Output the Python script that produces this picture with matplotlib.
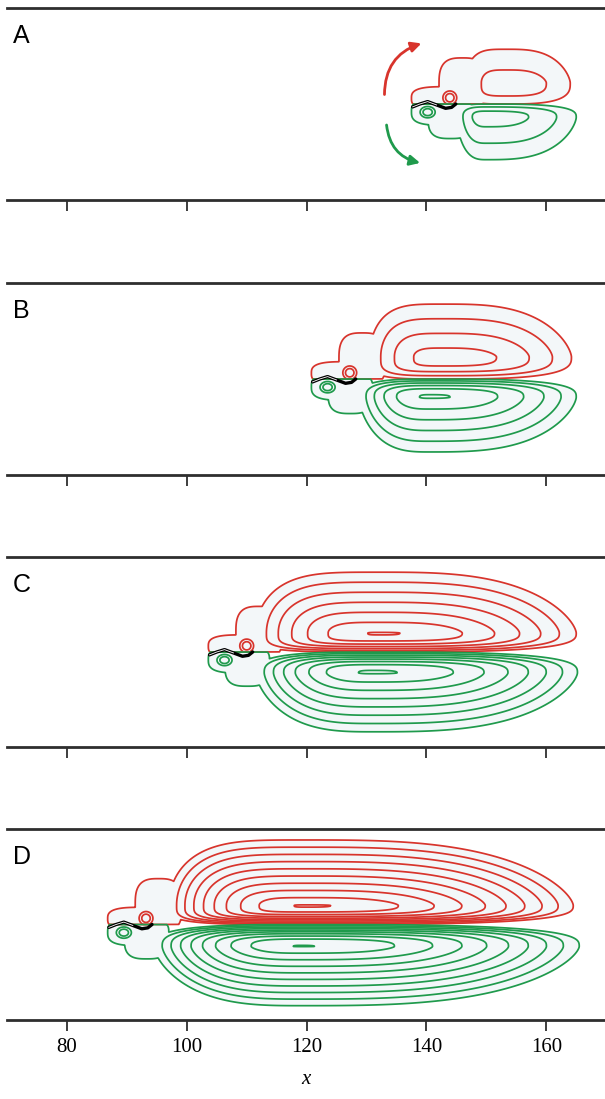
import numpy as np
import matplotlib
matplotlib.use("Agg")
import matplotlib.pyplot as plt
from matplotlib.patches import FancyArrowPatch

# ---------------- data ----------------
PANELS = ["A", "B", "C", "D"]
LEAD = [137.7, 121.0, 103.8, 87.0]          # leading-edge x of each structure

# red (upper) lobe: centre, extents of outer contour, number of levels, innermost size
RED_XC = [153.5, 143.0, 132.3, 120.0]
RED_YC = [0.22, 0.23, 0.20, 0.20]
RED_XL = [146.5, 130.5, 111.5, 97.0]
RED_XR = [164.0, 164.2, 165.0, 164.5]
RED_YT = [0.57, 0.78, 0.84, 0.885]
RED_N = [2, 4, 7, 10]
RED_INNER = [0.62, 0.41, 0.10, 0.09]

# green (lower) lobe
GRN_XC = [150.0, 140.5, 131.0, 119.0]
GRN_YC = [-0.14, -0.19, -0.22, -0.23]
GRN_XL = [145.0, 128.7, 111.5, 94.5]
GRN_XR = [165.0, 165.0, 165.2, 165.5]
GRN_YT = [-0.58, -0.76, -0.84, -0.85]
GRN_N = [3, 6, 8, 10]
GRN_INNER = [0.47, 0.14, 0.12, 0.05]

# leading-edge features, relative to LEAD: (dx, y, half-width, half-height, height, power)
RED_BLOBS = [(5.4, 0.06, 5.6, 0.12, 0.6, 3),
             (8.3, 0.20, 3.9, 0.28, 0.6, 3),
             (6.2, 0.065, 1.47, 0.09, 2.6, 2)]
GRN_BLOBS = [(4.9, -0.08, 5.1, 0.14, 0.6, 3),
             (6.3, -0.15, 3.7, 0.21, 0.6, 3),
             (2.5, -0.085, 1.6, 0.075, 2.6, 2)]

# black interface line near the leading edge (relative to LEAD)
LINE_DX = [0.0, 1.2, 2.5, 4.0, 5.5, 6.5, 7.2]
LINE_DY = [-0.03, 0.0, 0.025, -0.01, -0.045, -0.035, 0.0]

XTICKS = [80, 100, 120, 140, 160]
XLIM = (70.0, 169.8)

# panel rectangles in pixels (top, bottom)
PANEL_PX = [(8, 200), (283, 475), (557, 747), (829, 1020)]

RED = "#d8342c"
GREEN = "#1f9a4c"
FILL = "#f3f7f9"
SPINE = "#2e2e2e"

M_LEFT = {1: 4.0, -1: 3.0}   # boxiness of contours on the leading side
M_RIGHT = 3.0                # boxiness on the trailing side
Q = 2.0                      # compression of contours towards the centre line

W, H = 605, 1099
fig = plt.figure(figsize=(W / 100, H / 100), dpi=100)

x = np.linspace(XLIM[0], XLIM[1], 1400)
y = np.linspace(-1, 1, 700)
X, Y = np.meshgrid(x, y)


def lobe(xc, yc, xl, xr, yt, n, inner, sign):
    K = max(n - 1, 1) / (1 - inner ** 2)
    Ys, ycs, yts = Y * sign, yc * sign, yt * sign
    right = X >= xc
    rx = np.where(right, (X - xc) / (xr - xc), (xc - X) / (xc - xl))
    ty = np.where(Ys >= ycs, (Ys - ycs) / (yts - ycs), ((ycs - Ys) / ycs) ** Q)
    m = np.where(right, M_RIGHT, M_LEFT[sign])
    r2 = (np.abs(rx) ** m + np.abs(ty) ** (m / 2)) ** (2 / m)
    return K * (1 - r2)


def blob(bx, by, bw, bh, h, p):
    return h * (1 - np.abs((X - bx) / bw) ** p - np.abs((Y - by) / bh) ** p)


for i, name in enumerate(PANELS):
    top, bot = PANEL_PX[i]
    ax = fig.add_axes([7 / W, (H - bot) / H, (W - 7) / W, (bot - top) / H])
    ax.set_xlim(*XLIM)
    ax.set_ylim(-1, 1)
    lead = LEAD[i]

    g_red = lobe(RED_XC[i], RED_YC[i], RED_XL[i], RED_XR[i], RED_YT[i],
                 RED_N[i], RED_INNER[i], 1)
    for (dx, by, bw, bh, h, p) in RED_BLOBS:
        g_red = np.maximum(g_red, blob(lead + dx, by, bw, bh, h, p))
    g_red = np.where(Y >= 0, g_red, -1.0)

    g_grn = lobe(GRN_XC[i], GRN_YC[i], GRN_XL[i], GRN_XR[i], GRN_YT[i],
                 GRN_N[i], GRN_INNER[i], -1)
    for (dx, by, bw, bh, h, p) in GRN_BLOBS:
        g_grn = np.maximum(g_grn, blob(lead + dx, by, bw, bh, h, p))
    g_grn = np.where(Y <= 0, g_grn, -1.0)

    ax.contourf(X, Y, g_red, levels=[0, 1e6], colors=[FILL], zorder=1)
    ax.contourf(X, Y, g_grn, levels=[0, 1e6], colors=[FILL], zorder=1)
    ax.contour(X, Y, g_red, levels=np.arange(0, max(RED_N[i], 3)),
               colors=RED, linewidths=1.25, zorder=2)
    ax.contour(X, Y, g_grn, levels=np.arange(0, max(GRN_N[i], 3)),
               colors=GREEN, linewidths=1.25, zorder=2)

    lx = [lead + d for d in LINE_DX]
    ax.plot(lx, LINE_DY, color="black", lw=2.4, zorder=5, solid_capstyle="round")
    ax.plot(lx[:4], LINE_DY[:4], color="white", lw=0.6, zorder=6)

    for s in ("left", "right"):
        ax.spines[s].set_visible(False)
    for s in ("top", "bottom"):
        ax.spines[s].set_color(SPINE)
        ax.spines[s].set_linewidth(2.0)
    ax.set_yticks([])
    ax.set_xticks(XTICKS)
    ax.tick_params(axis="x", direction="out", length=8, width=1.3, color=SPINE,
                   top=False, bottom=True, pad=5)
    if i < 3:
        ax.set_xticklabels([])
    else:
        ax.set_xticklabels([str(t) for t in XTICKS], fontfamily="Liberation Serif",
                           fontsize=15)
        ax.set_xlabel("x", fontfamily="Liberation Serif", fontstyle="italic",
                      fontsize=15, labelpad=9)

    ax.text(0.01, 0.818, name, transform=ax.transAxes, fontsize=18,
            fontfamily="Liberation Sans", ha="left", va="baseline")

    if i == 0:
        a1 = FancyArrowPatch((133.0, 0.07), (139.6, 0.64),
                             connectionstyle="arc3,rad=-0.38",
                             arrowstyle="-|>", mutation_scale=15,
                             color=RED, lw=2.0, zorder=6)
        a2 = FancyArrowPatch((133.3, -0.19), (139.4, -0.62),
                             connectionstyle="arc3,rad=0.38",
                             arrowstyle="-|>", mutation_scale=15,
                             color=GREEN, lw=2.0, zorder=6)
        ax.add_patch(a1)
        ax.add_patch(a2)

fig.savefig("out.png", dpi=100)
